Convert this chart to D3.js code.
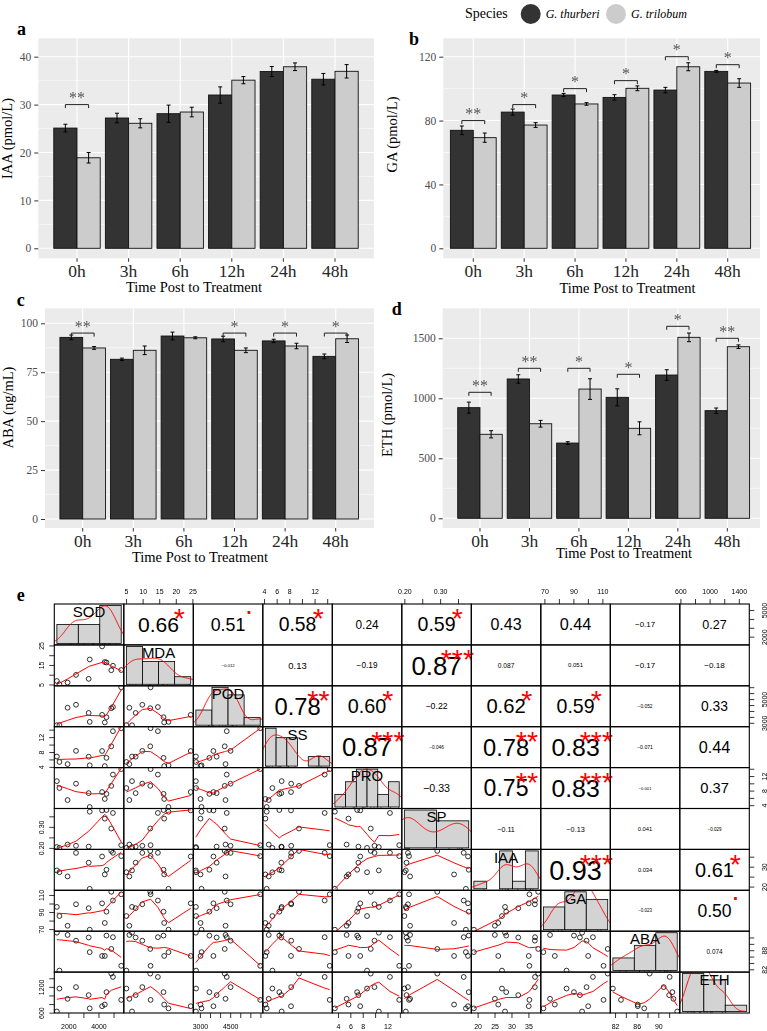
<!DOCTYPE html>
<html>
<head>
<meta charset="utf-8">
<script src="https://cdn.jsdelivr.net/npm/d3@7"></script>
<style>
  body { margin: 0; background: #fff; }
  svg { display: block; }
</style>
</head>
<body>
<div class="draw"></div>
<script>
const serif = "'Liberation Serif', 'Times New Roman', serif";
const sans = "'Liberation Sans', Arial, sans-serif";

// ---- panels a-d : hormone levels ----
const times = ["0h", "3h", "6h", "12h", "24h", "48h"];
const species = ["G. thurberi", "G. trilobum"];

const iaaThurberi = [25.1, 27.2, 28.1, 32.0, 36.9, 35.3];
const iaaTrilobum = [18.9, 26.1, 28.45, 35.1, 37.9, 36.95];
const iaaThurberiSe = [0.8, 1.0, 1.8, 1.7, 1.05, 1.2];
const iaaTrilobumSe = [1.1, 0.95, 1.0, 0.75, 0.8, 1.4];
const iaaSig = ["**", "", "", "", "", ""];
const iaaSigY = [30, 0, 0, 0, 0, 0];
const iaaTicks = [0, 10, 20, 30, 40];

const gaThurberi = [73.9, 85.3, 96.0, 94.5, 99.1, 110.8];
const gaTrilobum = [69.3, 77.2, 90.4, 100.2, 113.7, 103.5];
const gaThurberiSe = [2.7, 1.9, 1.0, 1.7, 1.7, 0.6];
const gaTrilobumSe = [2.9, 1.5, 0.8, 1.5, 2.5, 2.7];
const gaSig = ["**", "*", "*", "*", "*", "*"];
const gaSigY = [80, 90, 100, 105, 120, 115];
const gaTicks = [0, 40, 80, 120];

const abaThurberi = [92.8, 81.6, 93.5, 92.0, 91.0, 83.1];
const abaTrilobum = [87.4, 86.2, 92.6, 86.2, 88.4, 92.1];
const abaThurberiSe = [1.2, 0.6, 2.0, 1.4, 0.85, 1.2];
const abaTrilobumSe = [0.7, 2.2, 0.5, 1.2, 1.4, 1.9];
const abaSig = ["**", "", "", "*", "*", "*"];
const abaSigY = [95, 0, 0, 95, 95, 95];
const abaTicks = [0, 25, 50, 75, 100];

const ethThurberi = [922, 1161, 627, 1008, 1194, 897];
const ethTrilobum = [700, 788, 1077, 750, 1508, 1430];
const ethThurberiSe = [46, 35, 11, 71, 44, 22];
const ethTrilobumSe = [30, 28, 86, 54, 36, 15];
const ethSig = ["**", "**", "*", "*", "*", "**"];
const ethSigY = [1050, 1250, 1250, 1200, 1600, 1500];
const ethTicks = [0, 500, 1000, 1500];

// ---- panel e : correlation matrix ----
const traits = ["SOD", "MDA", "POD", "SS", "PRO", "SP", "IAA", "GA", "ABA", "ETH"];
// samples ordered 0h..48h, G. thurberi then G. trilobum
const sod = [1950, 3420, 1410, 4420, 1240, 4530, 3350, 4240, 2510, 4850, 5510, 4960];
const mda = [6.0, 17.8, 5.1, 16.5, 6.8, 16.3, 7.9, 24.5, 9.9, 12.3, 12.4, 14.6];
const pod = [4270, 3080, 2810, 3030, 2800, 3470, 3830, 3670, 4520, 4230, 5990, 4330];
const ss = [4.74, 4.42, 5.32, 4.21, 6.79, 6.42, 6.74, 8.27, 8.30, 9.53, 14.4, 13.6];
const pro = [5.4, 3.5, 8.7, 5.7, 10.6, 7.1, 7.3, 7.6, 9.9, 9.3, 13.9, 12.4];
const sp = [0.216, 0.372, 0.200, 0.339, 0.204, 0.380, 0.206, 0.378, 0.210, 0.292, 0.213, 0.366];

const corLabels = [
  ["0.66", "0.51", "0.58", "0.24", "0.59", "0.43", "0.44", "-0.17", "0.27"],
  ["-0.012", "0.13", "-0.19", "0.87", "0.087", "0.051", "-0.17", "-0.18"],
  ["0.78", "0.60", "-0.22", "0.62", "0.59", "-0.052", "0.33"],
  ["0.87", "-0.046", "0.78", "0.83", "-0.071", "0.44"],
  ["-0.33", "0.75", "0.83", "-0.001", "0.37"],
  ["-0.11", "-0.13", "0.041", "-0.029"],
  ["0.93", "0.034", "0.61"],
  ["-0.023", "0.50"],
  ["0.074"]
];
const corStars = [
  ["*", ".", "*", "", "*", "", "", "", ""],
  ["", "", "", "***", "", "", "", ""],
  ["**", "*", "", "*", "*", "", ""],
  ["***", "", "**", "***", "", ""],
  ["", "**", "***", "", ""],
  ["", "", "", ""],
  ["***", "", "*"],
  ["", "."],
  [""]
];

const pairTicks = {
  SOD: [2000, 3000, 4000, 5000], MDA: [5, 10, 15, 20, 25],
  POD: [3000, 3500, 4000, 4500, 5000, 5500, 6000], SS: [4, 6, 8, 10, 12, 14],
  PRO: [4, 6, 8, 10, 12, 14], SP: [0.20, 0.25, 0.30, 0.35],
  IAA: [20, 25, 30, 35], GA: [70, 80, 90, 100, 110],
  ABA: [82, 84, 86, 88, 90, 92], ETH: [600, 800, 1000, 1200, 1400]
};
const pairLabelsH = {
  SOD: [2000, 4000], MDA: [5, 10, 15, 20, 25], POD: [3000, 4500], SS: [4, 6, 8, 12],
  PRO: [4, 6, 8, 12], SP: [0.20, 0.30], IAA: [20, 25, 30, 35], GA: [70, 90, 110],
  ABA: [82, 86, 90], ETH: [600, 1000, 1400]
};
const pairLabelsV = {
  SOD: [2000, 5000], MDA: [5, 15, 25], POD: [3000, 5000], SS: [4, 8, 12],
  PRO: [4, 8, 12], SP: [0.20, 0.30], IAA: [20, 30], GA: [70, 90, 110],
  ABA: [82, 88], ETH: [600, 1200]
};

const colors = ["#333333", "#CCCCCC"];

const svg = d3.select(".draw")
    .append("svg")
    .attr("width", 767)
    .attr("height", 1031);
svg.append("rect").attr("width", 767).attr("height", 1031).attr("fill", "#fff");
const defs = svg.append("defs");

// grey-only filter for small text (avoids colour fringes)
defs.append("filter").attr("id", "grey")
    .append("feColorMatrix").attr("type", "saturate").attr("values", 0);

// legend
const legend = svg.append("g").attr("font-family", serif);
legend.append("text").attr("x", 465).attr("y", 18).attr("font-size", 14).text("Species");
const legendX = [530.7, 616];
species.forEach((s, i) => {
  legend.append("circle").attr("cx", legendX[i]).attr("cy", 14).attr("r", 10).attr("fill", colors[i]);
  legend.append("text").attr("x", legendX[i] + 15).attr("y", 17.5)
      .attr("font-size", 12).attr("font-style", "italic").text(s);
});

const panels = [
  { tag: "a", tagX: 17, tagY: 35, title: "IAA (pmol/L)", th: iaaThurberi, tr: iaaTrilobum,
    thSe: iaaThurberiSe, trSe: iaaTrilobumSe, sig: iaaSig, sigY: iaaSigY, ticks: iaaTicks,
    left: 38.3, right: 374, top: 38.3, bottom: 258.3, zeroY: 248.3, maxY: 56.7, bandL: 51.2, bandR: 360.8,
    yTitleX: 12.2, yTitleY: 138.5, xTitleX: 194, xTitleY: 291.8 },
  { tag: "b", tagX: 409, tagY: 45, title: "GA (pmol/L)", th: gaThurberi, tr: gaTrilobum,
    thSe: gaThurberiSe, trSe: gaTrilobumSe, sig: gaSig, sigY: gaSigY, ticks: gaTicks,
    left: 443.3, right: 760, top: 38.3, bottom: 258.3, zeroY: 248.3, maxY: 56.7, bandL: 447.85, bandR: 753.15,
    yTitleX: 397, yTitleY: 134.5, xTitleX: 627.5, xTitleY: 293 },
  { tag: "c", tagX: 16.7, tagY: 306, title: "ABA (ng/mL)", th: abaThurberi, tr: abaTrilobum,
    thSe: abaThurberiSe, trSe: abaTrilobumSe, sig: abaSig, sigY: abaSigY, ticks: abaTicks,
    left: 45, right: 374, top: 308.3, bottom: 528, zeroY: 519, maxY: 323.3, bandL: 57.4, bandR: 361,
    yTitleX: 12.5, yTitleY: 407.5, xTitleX: 200, xTitleY: 561.5 },
  { tag: "d", tagX: 391.7, tagY: 315, title: "ETH (pmol/L)", th: ethThurberi, tr: ethTrilobum,
    thSe: ethThurberiSe, trSe: ethTrilobumSe, sig: ethSig, sigY: ethSigY, ticks: ethTicks,
    left: 442.7, right: 760, top: 308.3, bottom: 528, zeroY: 518.3, maxY: 338.3, bandL: 455.25, bandR: 752.05,
    yTitleX: 392, yTitleY: 415, xTitleX: 624, xTitleY: 558 }
];

panels.forEach(p => {
  const g = svg.append("g");
  const x = d3.scaleBand().domain(times).range([p.bandL, p.bandR]).paddingInner(0.1).paddingOuter(0.05);
  const xSp = d3.scaleBand().domain(species).range([0, x.bandwidth()]);
  const y = d3.scaleLinear().domain([0, d3.max(p.ticks)]).range([p.zeroY, p.maxY]);
  const minor = d3.pairs(p.ticks).map(([a, b]) => (a + b) / 2);

  g.append("rect")
      .attr("x", p.left).attr("y", p.top)
      .attr("width", p.right - p.left).attr("height", p.bottom - p.top)
      .attr("fill", "#EBEBEB");
  g.selectAll(".minor").data(minor).join("line")
      .attr("x1", p.left).attr("x2", p.right)
      .attr("y1", d => y(d)).attr("y2", d => y(d))
      .attr("stroke", "#fff").attr("stroke-width", 0.55);
  g.selectAll(".major").data(p.ticks).join("line")
      .attr("x1", p.left).attr("x2", p.right)
      .attr("y1", d => y(d)).attr("y2", d => y(d))
      .attr("stroke", "#fff").attr("stroke-width", 1.1);
  g.selectAll(".vgrid").data(times).join("line")
      .attr("x1", d => x(d) + x.bandwidth() / 2).attr("x2", d => x(d) + x.bandwidth() / 2)
      .attr("y1", p.top).attr("y2", p.bottom)
      .attr("stroke", "#fff").attr("stroke-width", 1.1);

  const rows = times.flatMap((t, i) => [
    { time: t, sp: species[0], v: p.th[i], se: p.thSe[i], c: colors[0] },
    { time: t, sp: species[1], v: p.tr[i], se: p.trSe[i], c: colors[1] }
  ]);

  g.selectAll(".bar").data(rows).join("rect")
      .attr("x", d => x(d.time) + xSp(d.sp))
      .attr("width", xSp.bandwidth())
      .attr("y", d => y(d.v))
      .attr("height", d => y(0) - y(d.v))
      .attr("fill", d => d.c)
      .attr("stroke", "#111").attr("stroke-width", 0.9);

  // error bars
  const err = g.selectAll(".err").data(rows).join("g")
      .attr("stroke", "#000").attr("stroke-width", 1);
  err.append("line")
      .attr("x1", d => x(d.time) + xSp(d.sp) + xSp.bandwidth() / 2)
      .attr("x2", d => x(d.time) + xSp(d.sp) + xSp.bandwidth() / 2)
      .attr("y1", d => y(d.v - d.se)).attr("y2", d => y(d.v + d.se));
  [1, -1].forEach(s => {
    err.append("line")
        .attr("x1", d => x(d.time) + xSp(d.sp) + xSp.bandwidth() / 2 - 2)
        .attr("x2", d => x(d.time) + xSp(d.sp) + xSp.bandwidth() / 2 + 2)
        .attr("y1", d => y(d.v + s * d.se)).attr("y2", d => y(d.v + s * d.se));
  });

  // significance brackets
  const sigG = g.append("g").attr("filter", "url(#grey)");
  times.forEach((t, i) => {
    if (!p.sig[i]) return;
    const x1 = x(t) + xSp.bandwidth() / 2;
    const x2 = x(t) + xSp.bandwidth() * 1.5;
    const yb = y(p.sigY[i]);
    sigG.append("path")
        .attr("d", `M${x1},${yb + 3.5}V${yb}H${x2}V${yb + 3.5}`)
        .attr("fill", "none").attr("stroke", "#222").attr("stroke-width", 1);
    sigG.append("text")
        .attr("x", (x1 + x2) / 2).attr("y", yb - 1.5)
        .attr("text-anchor", "middle")
        .attr("font-family", serif).attr("font-size", 16).attr("fill", "#555")
        .text(p.sig[i]);
  });

  // axes
  const yAxis = g.append("g")
      .attr("transform", `translate(${p.left},0)`)
      .call(d3.axisLeft(y).tickValues(p.ticks).tickSize(4).tickPadding(3).tickFormat(d => d));
  yAxis.select(".domain").remove();
  yAxis.attr("font-family", serif).attr("font-size", 11.5);
  yAxis.selectAll("line").attr("stroke", "#333");
  yAxis.selectAll("text").attr("fill", "#4D4D4D");

  const xAxis = g.append("g")
      .attr("transform", `translate(0,${p.bottom})`)
      .call(d3.axisBottom(x).tickSize(3.5));
  xAxis.select(".domain").remove();
  xAxis.attr("font-family", serif).attr("font-size", 17.5);
  xAxis.selectAll("line").attr("stroke", "#333");
  xAxis.selectAll("text").attr("y", 18.7).attr("dy", 0).attr("fill", "#262626");

  g.append("text")
      .attr("transform", `translate(${p.yTitleX},${p.yTitleY}) rotate(-90)`)
      .attr("text-anchor", "middle")
      .attr("font-family", serif).attr("font-size", 14.5)
      .text(p.title);
  g.append("text")
      .attr("x", p.xTitleX).attr("y", p.xTitleY)
      .attr("text-anchor", "middle")
      .attr("font-family", serif).attr("font-size", 14.5)
      .text("Time Post to Treatment");
  g.append("text")
      .attr("x", p.tagX).attr("y", p.tagY)
      .attr("font-family", serif).attr("font-size", 18).attr("font-weight", "bold")
      .text(p.tag);
});

// ---------- panel e helpers ----------
function rPretty(lo, up, ndiv, minN) {
  const h = 1.5, h5 = 0.5 + 1.5 * h;
  const dx = up - lo;
  let cell = Math.max(Math.abs(lo), Math.abs(up));
  const U = (1 + 1 / (1 + h)) * Math.max(1, ndiv) * 2.220446e-16;
  if (dx < cell * U * 3) {
    if (cell > 10) cell = 9 + cell / 10;
    cell *= 0.75;
    if (minN > 1) cell /= minN;
  } else {
    cell = dx;
    if (ndiv > 1) cell /= ndiv;
  }
  const base = Math.pow(10, Math.floor(Math.log10(cell)));
  let unit = base, n2;
  if ((n2 = 2 * base) - cell < h * (cell - unit)) {
    unit = n2;
    if ((n2 = 5 * base) - cell < h5 * (cell - unit)) {
      unit = n2;
      if ((n2 = 10 * base) - cell < h * (cell - unit)) unit = n2;
    }
  }
  let ns = Math.floor(lo / unit + 1e-7), nu = Math.ceil(up / unit - 1e-7);
  while (ns * unit > lo + 1e-10 * unit) ns--;
  while (nu * unit < up - 1e-10 * unit) nu++;
  let k = Math.floor(0.5 + nu - ns);
  if (k < minN) {
    k = minN - k;
    if (ns >= 0) { nu += Math.floor(k / 2); ns -= Math.floor(k / 2) + k % 2; }
    else { ns -= Math.floor(k / 2); nu += Math.floor(k / 2) + k % 2; }
  }
  return d3.range(ns, nu + 1).map(i => +(i * unit).toPrecision(12));
}

function histBreaks(v) {
  const s = v.map(d => +d.toPrecision(5)).sort(d3.ascending);
  const iqr = d3.quantileSorted(s, 0.75) - d3.quantileSorted(s, 0.25);
  const nclass = iqr > 0 ? Math.ceil((s[s.length - 1] - s[0]) / (2 * iqr * Math.pow(s.length, -1 / 3))) : 1;
  return rPretty(d3.min(v), d3.max(v), nclass, 1);
}

function histCounts(v, br) {
  const counts = new Array(br.length - 1).fill(0);
  v.forEach(d => {
    for (let k = 0; k < br.length - 1; k++) {
      if ((d > br[k] || (k === 0 && d >= br[0])) && d <= br[k + 1]) { counts[k]++; break; }
    }
  });
  return counts;
}

function kde(v) {
  const n = v.length;
  const s = v.slice().sort(d3.ascending);
  const iqr = d3.quantileSorted(s, 0.75) - d3.quantileSorted(s, 0.25);
  let lo = Math.min(d3.deviation(v), iqr / 1.34);
  if (!(lo > 0)) lo = d3.deviation(v) || 1;
  const bw = 0.9 * lo * Math.pow(n, -0.2);
  const from = s[0] - 3 * bw, to = s[n - 1] + 3 * bw;
  return d3.range(0, 257).map(k => {
    const xv = from + (to - from) * k / 256;
    const dens = d3.sum(v, d => Math.exp(-0.5 * ((xv - d) / bw) ** 2)) / (n * bw * Math.sqrt(2 * Math.PI));
    return [xv, dens];
  });
}

// port of R's lowess (f = 2/3, iter = 3)
function lowess(xIn, yIn, f = 2 / 3, nsteps = 3) {
  const idx = d3.range(xIn.length).sort((a, b) => xIn[a] - xIn[b]);
  const x = idx.map(i => xIn[i]), y = idx.map(i => yIn[i]);
  const n = x.length;
  const delta = 0.01 * (x[n - 1] - x[0]);
  const ys = new Array(n).fill(0), rw = new Array(n).fill(1);
  const res = new Array(n).fill(0), w = new Array(n).fill(0);
  const ns = Math.max(2, Math.min(n, Math.floor(f * n + 1e-7)));
  const range = x[n - 1] - x[0];

  function lowest(xs, nleft, nright, userw) {
    const h = Math.max(xs - x[nleft], x[nright] - xs);
    const h9 = 0.999 * h, h1 = 0.001 * h;
    let a = 0, j = nleft;
    while (j < n) {
      w[j] = 0;
      const r = Math.abs(x[j] - xs);
      if (r <= h9) {
        w[j] = r <= h1 ? 1 : Math.pow(1 - Math.pow(r / h, 3), 3);
        if (userw) w[j] *= rw[j];
        a += w[j];
      } else if (x[j] > xs) break;
      j++;
    }
    const nrt = j - 1;
    if (a <= 0) return null;
    for (j = nleft; j <= nrt; j++) w[j] /= a;
    if (h > 0) {
      a = 0;
      for (j = nleft; j <= nrt; j++) a += w[j] * x[j];
      let b = xs - a, c = 0;
      for (j = nleft; j <= nrt; j++) c += w[j] * (x[j] - a) * (x[j] - a);
      if (Math.sqrt(c) > 0.001 * range) {
        b /= c;
        for (j = nleft; j <= nrt; j++) w[j] *= (b * (x[j] - a) + 1);
      }
    }
    let s = 0;
    for (j = nleft; j <= nrt; j++) s += w[j] * y[j];
    return s;
  }

  for (let iter = 1; iter <= nsteps + 1; iter++) {
    let nleft = 0, nright = ns - 1, last = -1, i = 0;
    for (;;) {
      if (nright < n - 1) {
        const d1 = x[i] - x[nleft], d2 = x[nright + 1] - x[i];
        if (d1 > d2) { nleft++; nright++; continue; }
      }
      const v = lowest(x[i], nleft, nright, iter > 1);
      ys[i] = v === null ? y[i] : v;
      if (last < i - 1) {
        const denom = x[i] - x[last];
        for (let j = last + 1; j < i; j++) {
          const alpha = (x[j] - x[last]) / denom;
          ys[j] = alpha * ys[i] + (1 - alpha) * ys[last];
        }
      }
      last = i;
      const cut = x[last] + delta;
      for (i = last + 1; i < n; i++) {
        if (x[i] > cut) break;
        if (x[i] === x[last]) { ys[i] = ys[last]; last = i; }
      }
      i = Math.max(last + 1, i - 1);
      if (last >= n - 1) break;
    }
    for (let k = 0; k < n; k++) res[k] = y[k] - ys[k];
    if (iter > nsteps) break;
    const sc = d3.sum(res, Math.abs) / n;
    const ar = res.map(Math.abs);
    const sorted = ar.slice().sort((a, b) => a - b);
    const m1 = Math.floor(n / 2);
    const cmad = n % 2 === 0 ? 3 * (sorted[m1 - 1] + sorted[m1]) : 6 * sorted[m1];
    if (cmad < 1e-7 * sc) break;
    const c9 = 0.999 * cmad, c1 = 0.001 * cmad;
    for (let k = 0; k < n; k++) {
      const r = ar[k];
      rw[k] = r <= c1 ? 1 : r <= c9 ? Math.pow(1 - Math.pow(r / cmad, 2), 2) : 0;
    }
  }
  return x.map((xv, k) => [xv, ys[k]]);
}

// ---------- panel e ----------
const pairData = {
  SOD: sod, MDA: mda, POD: pod, SS: ss, PRO: pro, SP: sp,
  IAA: times.flatMap((t, i) => [iaaThurberi[i], iaaTrilobum[i]]),
  GA: times.flatMap((t, i) => [gaThurberi[i], gaTrilobum[i]]),
  ABA: times.flatMap((t, i) => [abaThurberi[i], abaTrilobum[i]]),
  ETH: times.flatMap((t, i) => [ethThurberi[i], ethTrilobum[i]])
};

const pairs = svg.append("g");
const cellX = d3.scaleBand().domain(traits).range([54.3, 749.3]);
const cellY = d3.scaleBand().domain(traits).range([604, 1013]);
const cw = cellX.bandwidth(), ch = cellY.bandwidth();

const sx = {}, sy = {};
traits.forEach(t => {
  const [lo, hi] = d3.extent(pairData[t]);
  const pad = 0.04 * (hi - lo);
  sx[t] = d3.scaleLinear().domain([lo - pad, hi + pad]).range([cellX(t), cellX(t) + cw]);
  sy[t] = d3.scaleLinear().domain([lo - pad, hi + pad]).range([cellY(t) + ch, cellY(t)]);
});

function textWidth(str, size) {
  const t = pairs.append("text").attr("font-family", sans).attr("font-size", size).text(str);
  const w = t.node().getComputedTextLength();
  t.remove();
  return w;
}

svg.append("text")
    .attr("x", 16.7).attr("y", 601)
    .attr("font-family", serif).attr("font-size", 18).attr("font-weight", "bold")
    .text("e");

traits.forEach((ti, i) => traits.forEach((tj, j) => {
  const id = `cell-${i}-${j}`;
  const x0 = cellX(tj), y0 = cellY(ti);
  defs.append("clipPath").attr("id", id)
      .append("rect").attr("x", x0).attr("y", y0).attr("width", cw).attr("height", ch);
  const g = pairs.append("g");

  if (i > j) {
    // scatter + lowess
    const cg = g.append("g").attr("clip-path", `url(#${id})`);
    const pts = pairData[tj].map((v, k) => [v, pairData[ti][k]]);
    cg.selectAll("circle").data(pts).join("circle")
        .attr("cx", d => sx[tj](d[0])).attr("cy", d => sy[ti](d[1]))
        .attr("r", 2.4).attr("fill", "none")
        .attr("stroke", "#000").attr("stroke-width", 0.8);
    const smooth = lowess(pairData[tj], pairData[ti]);
    cg.append("path")
        .datum(smooth)
        .attr("fill", "none").attr("stroke", "red").attr("stroke-width", 1)
        .attr("d", d3.line().x(d => sx[tj](d[0])).y(d => sy[ti](d[1])));
  } else if (i === j) {
    // histogram + density + rug
    const v = pairData[ti];
    const br = histBreaks(v);
    const counts = histCounts(v, br);
    const bw = br[1] - br[0];
    const dens = counts.map(c => c / (v.length * bw));
    const maxD = d3.max(dens);
    const span = br[br.length - 1] - br[0];
    const hx = d3.scaleLinear().domain([br[0] - 0.04 * span, br[br.length - 1] + 0.04 * span]).range([x0, x0 + cw]);
    const hy = d3.scaleLinear().domain([-0.04 * maxD, 1.04 * maxD]).range([y0 + ch, y0]);
    const cg = g.append("g").attr("clip-path", `url(#${id})`);
    cg.selectAll("rect").data(dens).join("rect")
        .attr("x", (d, k) => hx(br[k]))
        .attr("width", (d, k) => hx(br[k + 1]) - hx(br[k]))
        .attr("y", d => hy(d))
        .attr("height", d => hy(0) - hy(d))
        .attr("fill", "#D3D3D3").attr("stroke", "#000").attr("stroke-width", 0.8);
    cg.append("path")
        .datum(kde(v))
        .attr("fill", "none").attr("stroke", "red").attr("stroke-width", 1)
        .attr("d", d3.line().x(d => hx(d[0])).y(d => hy(d[1])));
    cg.selectAll(".rug").data(v).join("line")
        .attr("x1", d => hx(d)).attr("x2", d => hx(d))
        .attr("y1", y0 + ch).attr("y2", y0 + ch - 1.5)
        .attr("stroke", "#000").attr("stroke-width", 0.6);
    g.append("text")
        .attr("x", x0 + cw / 2).attr("y", y0 + (1 - 0.833) * ch + 0.358 * 15 + 1)
        .attr("text-anchor", "middle")
        .attr("font-family", sans).attr("font-size", 15)
        .text(ti);
  } else {
    // correlation text and significance
    const raw = corLabels[i][j - i - 1];
    const label = raw.replace("-", "\u2212");
    const r = Math.abs(parseFloat(raw));
    const base = 10 * 0.8 * cw / textWidth(label, 10);
    const fs = base * (r + 0.3) / 1.3;
    g.append("text")
        .attr("x", x0 + cw / 2).attr("y", y0 + ch / 2 + 0.358 * fs)
        .attr("text-anchor", "middle")
        .attr("font-family", sans).attr("font-size", fs)
        .text(label);
    const star = corStars[i][j - i - 1];
    if (star) {
      g.append("text")
          .attr("x", x0 + 0.8 * cw)
          .attr("y", y0 + 0.2 * ch + (star === "." ? 0.05 : 0.57) * base)
          .attr("text-anchor", "middle")
          .attr("font-family", sans).attr("font-size", base).attr("fill", "red")
          .text(star);
    }
  }
}));

// cell borders
traits.forEach(ti => traits.forEach(tj => {
  pairs.append("rect")
      .attr("x", cellX(tj)).attr("y", cellY(ti))
      .attr("width", cw).attr("height", ch)
      .attr("fill", "none").attr("stroke", "#000").attr("stroke-width", 1.1);
}));

// outer axes
const fmtTick = t => (t === "SP" ? d3.format(".2f") : d => String(d));
function styleAxis(ax) {
  ax.select(".domain").remove();
  ax.attr("font-family", sans).attr("font-size", 7).attr("filter", "url(#grey)");
  ax.selectAll("line").attr("stroke", "#000").attr("stroke-width", 0.8);
  ax.selectAll("text").attr("fill", "#000");
}
traits.forEach((t, k) => {
  const f = fmtTick(t);
  if (k % 2 === 1) {
    const ax = pairs.append("g")
        .attr("transform", `translate(0,${cellY(traits[0])})`)
        .call(d3.axisTop(sx[t]).tickValues(pairTicks[t]).tickSize(5)
            .tickFormat(d => pairLabelsH[t].includes(d) ? f(d) : ""));
    styleAxis(ax);
    ax.selectAll("text").attr("y", -9.7).attr("dy", 0);

    const ay = pairs.append("g")
        .attr("transform", `translate(${cellX(traits[0])},0)`)
        .call(d3.axisLeft(sy[t]).tickValues(pairTicks[t]).tickSize(5)
            .tickFormat(d => pairLabelsV[t].includes(d) ? f(d) : ""));
    styleAxis(ay);
    ay.selectAll("text")
        .attr("x", 0).attr("y", -10.3).attr("dy", 0)
        .attr("text-anchor", "middle").attr("transform", "rotate(-90)");
  } else {
    const ax = pairs.append("g")
        .attr("transform", `translate(0,${cellY(traits[traits.length - 1]) + ch})`)
        .call(d3.axisBottom(sx[t]).tickValues(pairTicks[t]).tickSize(5)
            .tickFormat(d => pairLabelsH[t].includes(d) ? f(d) : ""));
    styleAxis(ax);
    ax.selectAll("text").attr("y", 16).attr("dy", 0);

    const ay = pairs.append("g")
        .attr("transform", `translate(${cellX(traits[traits.length - 1]) + cw},0)`)
        .call(d3.axisRight(sy[t]).tickValues(pairTicks[t]).tickSize(5)
            .tickFormat(d => pairLabelsV[t].includes(d) ? f(d) : ""));
    styleAxis(ay);
    ay.selectAll("text")
        .attr("x", 0).attr("y", 17.7).attr("dy", 0)
        .attr("text-anchor", "middle").attr("transform", "rotate(-90)");
  }
});
</script>
</body>
</html>
